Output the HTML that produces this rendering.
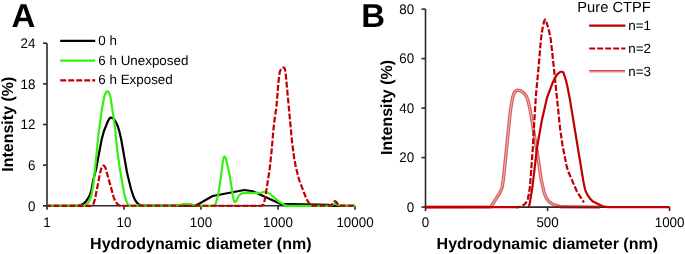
<!DOCTYPE html>
<html><head><meta charset="utf-8"><style>
html,body{margin:0;padding:0;background:#fff;width:685px;height:254px;overflow:hidden}
svg{display:block;will-change:transform}
text{font-family:"Liberation Sans",sans-serif;fill:#000;text-rendering:geometricPrecision}
.pl{font-size:33px;font-weight:bold}
.tk{font-size:13.8px;fill:#000}
.ti{font-size:16px;font-weight:bold}
.lg{font-size:13.4px;fill:#000}
.pc{font-size:14.7px;fill:#000}
</style></head><body>
<svg width="685" height="254" viewBox="0 0 685 254">
<rect width="685" height="254" fill="#fff"/>
<text x="11.6" y="26.6" class="pl">A</text>
<text x="361.2" y="26.6" class="pl">B</text>
<g stroke="#2a2a2a" stroke-width="1.6" fill="none">
<path d="M47.00,43.20 V205.80 H355.00"/>
<path d="M43.00,205.80 H47.00"/>
<path d="M43.00,165.15 H47.00"/>
<path d="M43.00,124.50 H47.00"/>
<path d="M43.00,83.85 H47.00"/>
<path d="M43.00,43.20 H47.00"/>
<path d="M47.00,205.80 V209.80"/>
<path d="M124.00,205.80 V209.80"/>
<path d="M201.00,205.80 V209.80"/>
<path d="M278.00,205.80 V209.80"/>
<path d="M355.00,205.80 V209.80"/>
</g>
<text transform="translate(35.40,210.50) scale(0.970,1)" class="tk" text-anchor="end">0</text>
<text transform="translate(35.40,169.85) scale(0.970,1)" class="tk" text-anchor="end">6</text>
<text transform="translate(35.40,129.20) scale(0.970,1)" class="tk" text-anchor="end">12</text>
<text transform="translate(35.40,88.55) scale(0.970,1)" class="tk" text-anchor="end">18</text>
<text transform="translate(35.40,47.90) scale(0.970,1)" class="tk" text-anchor="end">24</text>
<text transform="translate(47.00,226.70) scale(0.970,1)" class="tk" text-anchor="middle">1</text>
<text transform="translate(124.00,226.70) scale(0.970,1)" class="tk" text-anchor="middle">10</text>
<text transform="translate(201.00,226.70) scale(0.970,1)" class="tk" text-anchor="middle">100</text>
<text transform="translate(278.00,226.70) scale(0.970,1)" class="tk" text-anchor="middle">1000</text>
<text transform="translate(355.00,226.70) scale(0.970,1)" class="tk" text-anchor="middle">10000</text>
<text transform="translate(13.3,124.2) rotate(-90)" class="ti" text-anchor="middle">Intensity (%)</text>
<text x="200.8" y="249.0" class="ti" text-anchor="middle">Hydrodynamic diameter (nm)</text>
<path d="M47.00,205.80 L78.40,205.59 L81.40,204.81 L83.60,203.64 L85.80,201.68 L88.60,197.48 L89.80,195.00 L91.00,191.48 L91.60,189.15 L93.40,179.56 L96.00,169.55 L101.60,139.74 L103.80,131.48 L108.00,120.84 L109.60,118.41 L110.20,117.82 L110.60,117.63 L111.40,117.67 L113.40,118.56 L114.00,119.16 L116.40,123.09 L117.80,126.27 L119.40,131.46 L121.40,140.51 L127.00,172.48 L131.00,189.00 L133.60,196.84 L135.20,200.22 L136.60,202.34 L138.60,204.27 L140.80,205.25 L193.60,205.71 L197.40,204.67 L212.60,195.99 L244.40,190.01 L252.80,191.23 L280.20,203.79 L328.40,204.73 L332.60,205.78 L355.00,205.80" fill="none" stroke="#000" stroke-width="2.2" stroke-linejoin="round"/>
<path d="M47.00,205.80 L83.20,205.70 L85.40,205.17 L87.00,204.22 L87.80,203.48 L89.00,201.51 L90.20,198.88 L91.00,196.50 L92.00,192.13 L93.20,185.24 L94.00,179.09 L98.40,135.00 L101.80,109.68 L104.00,97.77 L104.60,95.53 L106.00,92.47 L106.60,91.60 L107.00,91.28 L107.40,91.21 L107.80,91.36 L108.20,91.70 L108.80,92.52 L110.00,95.00 L110.20,95.66 L110.60,97.85 L114.80,125.83 L117.20,150.00 L120.00,170.00 L124.00,192.49 L125.60,198.93 L127.00,202.67 L127.60,203.75 L128.80,204.92 L129.60,205.38 L175.60,205.76 L185.20,203.72 L190.80,204.26 L196.60,205.78 L213.60,205.75 L214.90,205.30 L215.20,204.95 L215.60,203.98 L217.60,197.19 L218.20,194.49 L220.40,180.57 L222.60,162.85 L223.20,159.61 L223.80,157.47 L224.00,156.96 L224.20,156.62 L224.40,156.50 L224.60,156.54 L225.00,156.85 L225.60,157.68 L226.00,158.94 L229.60,174.80 L233.20,197.71 L233.60,199.50 L234.20,201.23 L234.60,202.00 L234.80,202.18 L235.00,202.19 L235.40,201.96 L236.60,200.35 L238.20,196.67 L238.60,196.00 L239.80,194.79 L242.00,193.47 L243.00,193.20 L259.80,192.97 L264.60,191.82 L265.80,191.87 L269.80,193.78 L279.40,202.06 L285.20,205.26 L287.80,205.80 L329.60,205.56 L331.00,205.16 L334.20,203.96 L335.00,203.91 L340.60,205.77 L355.00,205.80" fill="none" stroke="#35F010" stroke-width="2.2" stroke-linejoin="round"/>
<path d="M47.00,205.80 L91.20,205.78 L91.80,205.54 L93.00,204.50 L93.40,203.89 L94.00,202.39 L95.20,198.20 L100.20,172.26 L101.40,168.16 L101.80,167.16 L102.20,166.50 L103.00,165.77 L103.50,165.60 L103.80,165.67 L104.20,165.92 L105.00,166.80 L105.40,167.55 L113.80,197.62 L114.80,200.15 L116.00,202.32 L117.80,204.46 L118.60,205.10 L120.40,205.74 L261.20,205.79 L262.00,205.55 L263.20,204.69 L263.40,204.50 L263.60,204.20 L264.00,203.08 L265.60,195.46 L269.80,168.00 L271.80,148.91 L273.40,129.96 L274.60,119.22 L276.20,108.57 L276.60,104.99 L278.40,82.74 L279.20,75.59 L279.70,72.50 L280.20,70.81 L280.60,69.86 L281.40,68.62 L282.00,68.02 L283.20,67.54 L283.60,67.50 L283.80,67.54 L284.20,67.83 L284.70,68.50 L285.00,69.41 L285.40,71.50 L285.80,74.75 L292.00,141.75 L294.20,158.33 L296.00,167.83 L299.20,180.06 L306.00,197.78 L308.40,202.16 L310.40,204.75 L311.00,205.20 L312.40,205.73 L329.40,205.77 L331.00,205.20 L331.40,204.91 L332.80,203.17 L333.70,201.90 L334.40,201.36 L334.90,201.20 L335.20,201.26 L336.20,201.99 L338.20,204.72 L338.60,205.08 L340.20,205.70 L355.00,205.80" fill="none" stroke="#C00000" stroke-width="2.2" stroke-dasharray="6 2" stroke-dashoffset="1.6" stroke-linejoin="round"/>
<path d="M60.2,40.8 H95.2" stroke="#000" stroke-width="2.2"/>
<path d="M60.2,60.7 H95.2" stroke="#35F010" stroke-width="2.2"/>
<path d="M60.2,80.3 H95.2" stroke="#C00000" stroke-width="2.2" stroke-dasharray="6 2"/>
<text x="98.3" y="45.3" class="lg">0 h</text>
<text x="98.3" y="64.6" class="lg">6 h Unexposed</text>
<text x="98.3" y="84.3" class="lg">6 h Exposed</text>
<g stroke="#2a2a2a" stroke-width="1.6" fill="none">
<path d="M425.50,9.10 V207.10 H669.60"/>
<path d="M421.50,207.10 H425.50"/>
<path d="M421.50,157.60 H425.50"/>
<path d="M421.50,108.10 H425.50"/>
<path d="M421.50,58.60 H425.50"/>
<path d="M421.50,9.10 H425.50"/>
<path d="M425.50,207.10 V211.10"/>
<path d="M547.55,207.10 V211.10"/>
<path d="M669.60,207.10 V211.10"/>
</g>
<text transform="translate(414.20,211.80) scale(0.970,1)" class="tk" text-anchor="end">0</text>
<text transform="translate(414.20,162.30) scale(0.970,1)" class="tk" text-anchor="end">20</text>
<text transform="translate(414.20,112.80) scale(0.970,1)" class="tk" text-anchor="end">40</text>
<text transform="translate(414.20,63.30) scale(0.970,1)" class="tk" text-anchor="end">60</text>
<text transform="translate(414.20,13.80) scale(0.970,1)" class="tk" text-anchor="end">80</text>
<text transform="translate(425.50,227.10) scale(0.970,1)" class="tk" text-anchor="middle">0</text>
<text transform="translate(547.55,227.10) scale(0.970,1)" class="tk" text-anchor="middle">500</text>
<text transform="translate(669.60,227.10) scale(0.970,1)" class="tk" text-anchor="middle">1000</text>
<text transform="translate(391.7,107.5) rotate(-90)" class="ti" text-anchor="middle">Intensity (%)</text>
<text x="547.3" y="249.1" class="ti" text-anchor="middle">Hydrodynamic diameter (nm)</text>
<path d="M425.50,207.10 L490.30,206.90 L490.70,206.75 L491.30,206.22 L499.30,193.76 L501.10,190.23 L501.90,188.00 L502.30,186.30 L503.30,180.00 L510.30,111.52 L512.30,99.15 L513.10,95.97 L513.90,93.80 L514.90,91.90 L515.30,91.38 L516.70,90.38 L517.50,90.11 L519.90,90.42 L522.50,91.88 L524.50,93.73 L526.10,95.97 L527.10,98.00 L527.90,100.38 L529.90,108.49 L537.30,152.69 L541.30,180.00 L544.10,192.50 L545.50,196.31 L546.90,198.97 L549.30,201.91 L553.30,204.64 L560.90,206.82 L600.00,207.10" fill="none" stroke="#C00000" stroke-opacity="0.62" stroke-width="3.4" stroke-linejoin="round"/>
<path d="M490.30,206.90 L493.50,203.19 L500.70,191.09 L501.50,189.22 L502.10,187.24 L502.90,182.75 L503.70,176.79 L510.10,113.18 L510.90,107.42 L512.30,99.15 L513.10,95.97 L513.90,93.80 L514.90,91.90 L515.30,91.38 L516.70,90.38 L517.50,90.11 L519.90,90.42 L522.50,91.88 L524.50,93.73 L526.10,95.97 L527.10,98.00 L527.90,100.38 L529.90,108.49 L537.30,152.69 L541.30,180.00 L544.10,192.50 L545.50,196.31 L546.90,198.97 L549.30,201.91 L553.50,204.80 L555.70,205.60" fill="none" stroke="#fff" stroke-opacity="0.5" stroke-width="1.0" stroke-linejoin="round"/>
<path d="M516.00,207.10 L519.20,207.04 L522.60,205.66 L524.80,204.03 L526.00,202.61 L527.00,200.90 L527.80,198.77 L528.40,196.58 L529.60,189.33 L530.00,186.00 L532.80,148.43 L534.20,122.84 L536.00,94.65 L539.00,62.66 L540.80,40.89 L541.80,32.87 L543.00,25.84 L544.00,21.65 L544.60,20.13 L544.80,19.76 L545.00,19.53 L545.10,19.50 L545.20,19.53 L545.40,19.77 L546.40,21.97 L548.20,27.75 L550.00,35.21 L550.80,39.65 L553.80,67.09 L560.00,127.66 L562.40,144.72 L566.60,165.81 L568.00,171.00 L576.80,191.24 L584.00,202.50" fill="none" stroke="#C00000" stroke-width="2.2" stroke-dasharray="6 2" stroke-dashoffset="1.3" stroke-linejoin="round"/>
<path d="M425.50,207.10 H518.6 M528.80,207.10 L529.80,203.00 L532.40,187.43 L537.00,147.77 L541.60,121.59 L547.00,97.74 L553.00,81.90 L556.00,76.14 L558.00,73.52 L560.00,72.06 L560.80,71.75 L561.60,71.73 L562.80,72.12 L563.40,72.49 L563.60,72.82 L565.80,79.72 L567.20,85.57 L569.60,97.69 L583.40,181.50 L584.80,188.22 L585.60,190.86 L587.20,194.42 L590.00,198.66 L593.00,201.59 L602.60,206.25 L608.00,207.10 L669.60,207.10" fill="none" stroke="#C00000" stroke-width="2.2" stroke-linejoin="round"/>
<text x="577.3" y="11.5" class="pc">Pure CTPF</text>
<path d="M589.2,25.7 H625.4" stroke="#C00000" stroke-width="2.2"/>
<path d="M589.2,48.5 H625.4" stroke="#C00000" stroke-width="2.2" stroke-dasharray="6 2"/>
<path d="M589.2,70.6 H625.0" stroke="#C00000" stroke-opacity="0.72" stroke-width="1.3"/>
<path d="M589.2,71.9 H625.0" stroke="#C00000" stroke-opacity="0.45" stroke-width="1.3"/>
<text x="628.3" y="29.8" class="lg">n=1</text>
<text x="628.3" y="53.3" class="lg">n=2</text>
<text x="628.3" y="75.6" class="lg">n=3</text>
</svg>
</body></html>
